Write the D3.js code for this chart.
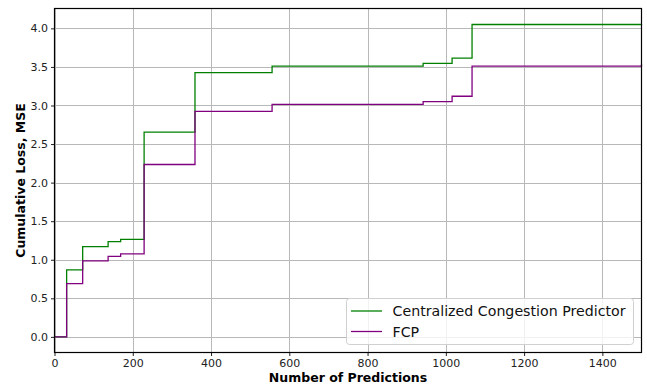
<!DOCTYPE html>
<html><head><meta charset="utf-8">
<script src="https://cdn.jsdelivr.net/npm/d3@7"></script>
<style>
html,body{margin:0;padding:0;background:#fff;}
svg{display:block;font-family:"DejaVu Sans",sans-serif;}
</style></head>
<body>
<svg id="chart" width="647" height="385"></svg>
<script>
const predictionSteps = [0, 31, 72, 137, 169, 229, 359, 556, 942, 1016, 1067, 1500];
const centralizedLoss = [0, 0.87, 1.17, 1.235, 1.265, 2.655, 3.425, 3.51, 3.545, 3.615, 4.05, 4.055];
const fcpLoss = [0, 0.69, 0.985, 1.045, 1.075, 2.235, 2.925, 3.015, 3.05, 3.12, 3.51, 3.535];
const seriesNames = ["Centralized Congestion Predictor", "FCP"];
const seriesColors = ["green", "purple"];
const xTicks = [0, 200, 400, 600, 800, 1000, 1200, 1400];
const yTicks = [0, 0.5, 1.0, 1.5, 2.0, 2.5, 3.0, 3.5, 4.0];

const svg = d3.select("#chart");
const L = 54.5, R = 641.5, T = 8.5, B = 352.5;
const x = d3.scaleLinear().domain([0, 1500]).range([L, R]);
const y = d3.scaleLinear().domain([-0.2025, 4.2575]).range([B, T]);

// grid
svg.append("g").selectAll("line").data(xTicks).join("line")
  .attr("x1", d => Math.round(x(d)) + 0.5).attr("x2", d => Math.round(x(d)) + 0.5)
  .attr("y1", T).attr("y2", B).attr("stroke", "#b8b8b8").attr("stroke-width", 1);
svg.append("g").selectAll("line").data(yTicks).join("line")
  .attr("y1", d => Math.round(y(d)) + 0.5).attr("y2", d => Math.round(y(d)) + 0.5)
  .attr("x1", L).attr("x2", R).attr("stroke", "#b8b8b8").attr("stroke-width", 1);

// lines
const series = [centralizedLoss, fcpLoss];
const line = d3.line().curve(d3.curveStepAfter).x((d, i) => x(predictionSteps[i])).y(d => y(d));
series.forEach((s, k) => {
  svg.append("path").datum(s).attr("d", line).attr("fill", "none")
    .attr("stroke", seriesColors[k]).attr("stroke-width", 1.3);
});

// axes
const xAxis = d3.axisBottom(x).tickValues(xTicks).tickFormat(d3.format("d")).tickSize(3.5).tickPadding(3);
const yAxis = d3.axisLeft(y).tickValues(yTicks).tickFormat(d3.format(".1f")).tickSize(3.5).tickPadding(3);
const gx = svg.append("g").attr("transform", `translate(0,${B})`).call(xAxis);
const gy = svg.append("g").attr("transform", `translate(${L},0)`).call(yAxis);
[gx, gy].forEach(g => {
  g.select(".domain").remove();
  g.selectAll("text").attr("font-size", 11).attr("fill", "#222").attr("font-family", "DejaVu Sans");
  g.selectAll("line").attr("stroke", "#222");
});

// frame
svg.append("rect").attr("x", L).attr("y", T).attr("width", R - L).attr("height", B - T)
  .attr("fill", "none").attr("stroke", "#000").attr("stroke-width", 1.2);

// labels
svg.append("text").attr("x", (L + R) / 2).attr("y", 382).attr("text-anchor", "middle")
  .attr("font-size", 12.5).attr("font-weight", "bold").text("Number of Predictions");
svg.append("text").attr("transform", `translate(25,${(T + B) / 2}) rotate(-90)`).attr("text-anchor", "middle")
  .attr("font-size", 12.5).attr("font-weight", "bold").text("Cumulative Loss, MSE");

// legend
const lg = svg.append("g");
lg.append("rect").attr("x", 346.5).attr("y", 298.5).attr("width", 287).attr("height", 46).attr("rx", 3)
  .attr("fill", "rgba(255,255,255,0.8)").attr("stroke", "#d0d0d0").attr("stroke-width", 1);
seriesNames.forEach((n, i) => {
  const yy = 311 + i * 20.5;
  lg.append("line").attr("x1", 351).attr("x2", 382).attr("y1", yy).attr("y2", yy)
    .attr("stroke", seriesColors[i]).attr("stroke-width", 1.3);
  lg.append("text").attr("x", 392.5).attr("y", yy + 5.2).attr("font-size", 14.2).attr("fill", "#111").text(n);
});
</script>
</body></html>
